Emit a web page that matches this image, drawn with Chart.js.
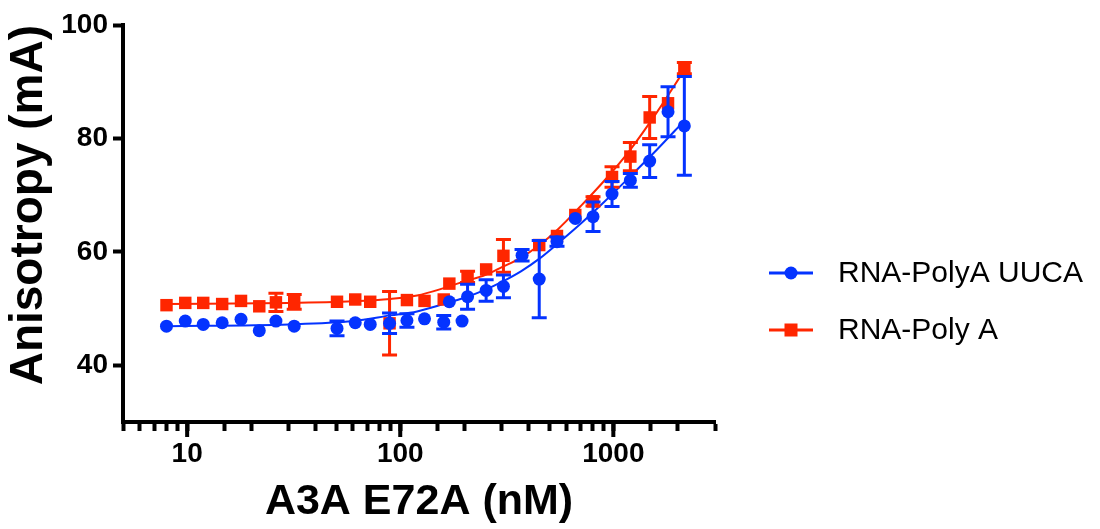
<!DOCTYPE html>
<html><head><meta charset="utf-8">
<script src="https://cdn.jsdelivr.net/npm/chart.js@4/dist/chart.umd.min.js"></script>
<style>html,body{margin:0;padding:0;background:#fff}canvas{display:block}</style>
</head><body>
<canvas id="c" width="1100" height="529"></canvas>
<script>
const seriesNames = ['RNA-PolyA UUCA', 'RNA-Poly A'];
const blueConc   = [8, 9.8, 11.9, 14.6, 17.9, 21.8, 26.1, 31.8, 50.5, 61.5, 72.3, 89.1, 107.5, 130, 160, 170, 195, 207, 253, 305, 373, 449, 544, 663, 803, 986, 1202, 1481, 1806, 2154];
const blueValues = [46.9, 47.8, 47.2, 47.5, 48.1, 46.1, 47.8, 46.9, 46.5, 47.5, 47.2, 47.4, 47.9, 48.2, 47.6, 51.2, 47.8, 52.1, 53.2, 53.9, 59.4, 55.2, 61.8, 65.9, 66.2, 70.2, 72.6, 76.0, 84.7, 82.2];
const blueErrors = [0, 0, 0, 0, 0, 0, 0, 0, 1.3, 0, 0, 1.8, 1.2, 0, 1.2, 0, 0, 2.2, 1.9, 2.0, 1.0, 6.8, 0.8, 0, 2.6, 2.2, 1.2, 2.9, 4.4, 8.7];
const redConc    = [8, 9.8, 11.9, 14.6, 17.9, 21.8, 26.1, 31.8, 50.5, 61.5, 72.3, 89.1, 107.5, 130, 160, 170, 207, 253, 305, 449, 544, 663, 803, 986, 1202, 1481, 1806, 2154];
const redValues  = [50.6, 51.0, 51.0, 50.8, 51.35, 50.4, 51.1, 51.2, 51.2, 51.6, 51.2, 47.4, 51.5, 51.35, 51.6, 54.4, 55.6, 56.9, 59.3, 61.2, 62.8, 66.5, 68.9, 73.2, 76.8, 83.7, 86.2, 92.4];
const redErrors  = [0, 0, 0, 0, 0, 0, 1.6, 1.3, 0, 0, 0, 5.6, 0, 0, 0, 0, 1.0, 0, 2.9, 0, 0, 0, 0.8, 1.8, 2.5, 3.7, 0, 1.0];
const fitConc    = [8, 30, 60, 90, 120, 160, 200, 250, 300, 370, 450, 550, 700, 900, 1200, 1600, 2150];
const blueFit    = [46.9, 47.2, 47.8, 48.8, 49.5, 50.8, 51.9, 53.3, 54.7, 56.6, 58.8, 61.5, 64.9, 68.7, 73.3, 78.0, 83.1];
const redFit     = [50.8, 51.0, 51.3, 51.7, 52.3, 53.6, 54.8, 55.9, 57.3, 59.0, 61.2, 64.0, 68.0, 72.4, 78.0, 84.6, 92.0];
const xTickLabels = [10, 100, 1000];
const yTickValues = [40, 60, 80, 100];
const xTitle = 'A3A E72A (nM)';
const yTitle = 'Anisotropy (mA)';

const BLUE = '#0433FF', RED = '#FF2600';
const FONT = "'Liberation Sans', Arial, Helvetica, sans-serif";
const toPts = (xs, ys) => xs.map((x, i) => ({x, y: ys[i]}));
const isLabelled = v => xTickLabels.some(t => Math.abs(t - v) < 1e-6);

const errorBars = {
  id: 'errorBars',
  beforeDatasetDraw(chart, args) {
    const ds = chart.data.datasets[args.index];
    if (!ds.errors) return;
    const ctx = chart.ctx, xs = chart.scales.x, ys = chart.scales.y;
    ctx.save();
    ctx.strokeStyle = ds.borderColor; ctx.lineWidth = 3;
    ds.data.forEach((p, i) => {
      const e = ds.errors[i]; if (!e) return;
      const px = xs.getPixelForValue(p.x);
      const t = ys.getPixelForValue(p.y + e), b = ys.getPixelForValue(p.y - e);
      ctx.beginPath();
      ctx.moveTo(px, t); ctx.lineTo(px, b);
      ctx.moveTo(px - 7.5, t); ctx.lineTo(px + 7.5, t);
      ctx.moveTo(px - 7.5, b); ctx.lineTo(px + 7.5, b);
      ctx.stroke();
    });
    ctx.restore();
  }
};

const majorTicks = {
  id: 'majorTicks',
  afterDraw(chart) {
    const xs = chart.scales.x, ctx = chart.ctx;
    ctx.save(); ctx.strokeStyle = '#000'; ctx.lineWidth = 4;
    xs.ticks.forEach(t => {
      if (!isLabelled(t.value)) return;
      const px = xs.getPixelForValue(t.value);
      ctx.beginPath(); ctx.moveTo(px, xs.top); ctx.lineTo(px, xs.top + 15); ctx.stroke();
    });
    ctx.restore();
  }
};

const sideLegend = {
  id: 'sideLegend',
  afterDraw(chart) {
    const ctx = chart.ctx;
    const rows = [
      {ds: chart.data.datasets[0], y: 273},
      {ds: chart.data.datasets[1], y: 330}
    ];
    ctx.save();
    rows.forEach(r => {
      const c = r.ds.borderColor;
      ctx.strokeStyle = c; ctx.lineWidth = 3;
      ctx.beginPath(); ctx.moveTo(769, r.y); ctx.lineTo(813, r.y); ctx.stroke();
      ctx.fillStyle = c;
      if (r.ds.pointStyle === 'rect') {
        ctx.fillRect(791 - 6.5, r.y - 6.5, 13, 13);
      } else {
        ctx.beginPath(); ctx.arc(791, r.y, 6.5, 0, Math.PI * 2); ctx.fill();
      }
      ctx.fillStyle = '#000';
      ctx.font = '30px ' + FONT;
      ctx.textBaseline = 'middle';
      ctx.fillText(r.ds.label, 838, r.y + 1);
    });
    ctx.restore();
  }
};

new Chart(document.getElementById('c'), {
  type: 'scatter',
  data: {
    datasets: [
      {label: seriesNames[0], data: toPts(blueConc, blueValues), errors: blueErrors,
       borderColor: BLUE, backgroundColor: BLUE, pointStyle: 'circle', pointRadius: 6.5,
       pointBorderWidth: 0, showLine: false, order: 0},
      {label: seriesNames[1], data: toPts(redConc, redValues), errors: redErrors,
       borderColor: RED, backgroundColor: RED, pointStyle: 'rect', pointRadius: 8.8,
       pointBorderWidth: 0, showLine: false, order: 1},
      {label: 'fit1', data: toPts(fitConc, blueFit), borderColor: BLUE, borderWidth: 2,
       pointRadius: 0, showLine: true, cubicInterpolationMode: 'monotone', order: 2},
      {label: 'fit2', data: toPts(fitConc, redFit), borderColor: RED, borderWidth: 2,
       pointRadius: 0, showLine: true, cubicInterpolationMode: 'monotone', order: 3}
    ]
  },
  options: {
    responsive: false, animation: false, devicePixelRatio: 1,
    layout: {padding: {left: 0, right: 385, top: 25, bottom: 0}},
    plugins: {legend: {display: false}, tooltip: {enabled: false}},
    scales: {
      x: {
        type: 'logarithmic', min: 5, max: 3000, position: 'bottom',
        grid: {drawOnChartArea: false, drawTicks: true, tickLength: 9, tickWidth: 4, tickColor: '#000'},
        border: {display: true, color: '#000', width: 4},
        ticks: {autoSkip: false, maxRotation: 0, color: '#000', padding: 6,
                font: {family: FONT, size: 28, weight: 'bold'},
                callback: v => isLabelled(v) ? String(v) : ''},
        title: {display: true, text: xTitle, color: '#000', padding: {top: 0, bottom: 1},
                font: {family: FONT, size: 43, weight: 'bold'}},
        afterFit: s => { s.height = 107; }
      },
      y: {
        type: 'linear', min: 30, max: 100,
        afterBuildTicks: s => { s.ticks = yTickValues.map(v => ({value: v})); },
        grid: {drawOnChartArea: false, drawTicks: true, tickLength: 10, tickWidth: 4, tickColor: '#000'},
        border: {display: true, color: '#000', width: 4},
        ticks: {color: '#000', padding: 5, font: {family: FONT, size: 28, weight: 'bold'}},
        title: {display: true, text: yTitle, color: '#000', align: 'end', padding: {top: 2, bottom: 0},
                font: {family: FONT, size: 46, weight: 'bold'}},
        afterFit: s => { s.width = 123; }
      }
    }
  },
  plugins: [errorBars, majorTicks, sideLegend]
});
</script>
</body></html>
